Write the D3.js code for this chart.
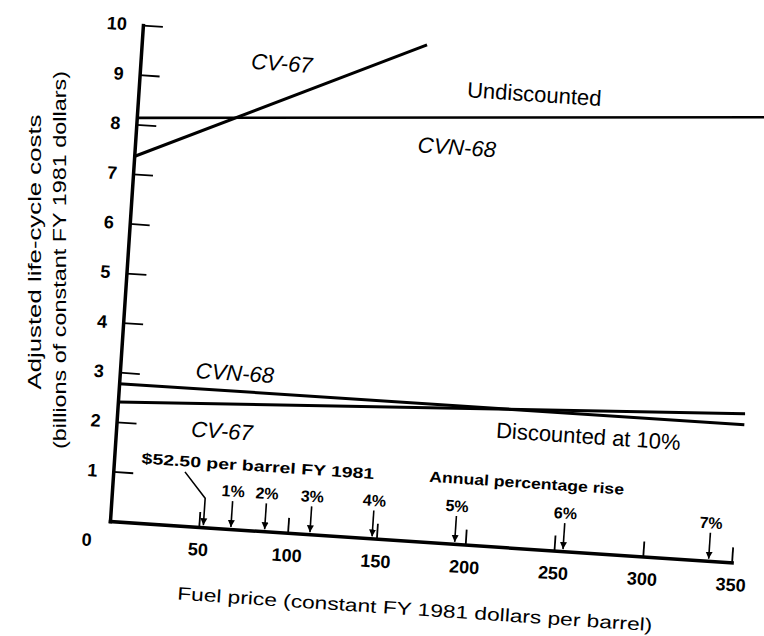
<!DOCTYPE html>
<html>
<head>
<meta charset="utf-8">
<script src="https://cdn.jsdelivr.net/npm/d3@7"></script>
<style>
  body { margin: 0; background: #fff; }
  svg text { font-family: "Liberation Sans", Arial, Helvetica, sans-serif; fill: #000; }
</style>
</head>
<body>
<svg width="764" height="636"></svg>
<script>

// tick values
var xTicks = [50, 100, 150, 200, 250, 300, 350];
var yTicks = [1, 2, 3, 4, 5, 6, 7, 8, 9, 10];

// undiscounted costs (billions, FY 1981 $) against fuel price ($ per barrel)
var cv67UndiscPrice = [0, 160];
var cv67Undisc = [7.35, 9.98];
var cvn68UndiscPrice = [0, 352];
var cvn68Undisc = [8.13, 8.98];

// discounted at 10%
var discPrice = [0, 352];
var cvn68Disc = [2.77, 2.78];
var cv67Disc = [2.40, 3.00];

// fuel price reached at each annual percentage rise
var markPrices = [52.5, 68, 87, 112.5, 147.5, 194, 255, 337];
var markLabels = ['', '1%', '2%', '3%', '4%', '5%', '6%', '7%'];

// the scanned page sits slightly tilted
var ORIGIN_X = 110;
var ORIGIN_Y = 521;
var TILT = 3.8;

var svg = d3.select('svg');

var x = d3.scaleLinear().domain([0, 350]).range([0, 623]);
var y = d3.scaleLinear().domain([0, 10]).range([0, -497]);

svg.append('defs').append('marker')
  .attr('id', 'head')
  .attr('viewBox', '0 0 10 10')
  .attr('refX', 10)
  .attr('refY', 5)
  .attr('markerWidth', 7)
  .attr('markerHeight', 8)
  .attr('markerUnits', 'userSpaceOnUse')
  .attr('orient', 'auto')
  .append('path')
  .attr('d', 'M0,0L10,5L0,10Z')
  .attr('fill', '#000');

var g = svg.append('g')
  .attr('transform', 'translate(' + ORIGIN_X + ',' + ORIGIN_Y + ') rotate(' + TILT + ')');

// axes
var xAxis = g.append('g')
  .call(d3.axisBottom(x).tickValues(xTicks).tickSizeInner(-15).tickSizeOuter(0).tickPadding(16));
var yAxis = g.append('g')
  .call(d3.axisLeft(y).tickValues(yTicks).tickSizeInner(-20).tickSizeOuter(0).tickPadding(16));

[xAxis, yAxis].forEach(function (ax) {
  ax.attr('font-family', null).attr('font-size', null);
  ax.select('.domain').attr('stroke', '#000').attr('stroke-width', 3.5).attr('stroke-linecap', 'square');
  ax.selectAll('.tick line').attr('stroke', '#000').attr('stroke-width', 1.8);
  ax.selectAll('.tick text').style('font-size', '18px').style('font-weight', 'bold');
});

g.append('text')
  .attr('x', x(0) - 22)
  .attr('y', y(0) + 20)
  .attr('dy', '0.35em')
  .attr('text-anchor', 'middle')
  .style('font-size', '18px')
  .style('font-weight', 'bold')
  .text('0');

// data lines
var line = d3.line()
  .x(function (d) { return x(d[0]); })
  .y(function (d) { return y(d[1]); });

var series = [
  { px: cv67UndiscPrice, v: cv67Undisc, w: 3 },
  { px: cvn68UndiscPrice, v: cvn68Undisc, w: 2.6 },
  { px: discPrice, v: cvn68Disc, w: 3 },
  { px: discPrice, v: cv67Disc, w: 3 }
];

g.selectAll('path.series')
  .data(series)
  .enter()
  .append('path')
  .attr('class', 'series')
  .attr('d', function (s) { return line(d3.zip(s.px, s.v)); })
  .attr('fill', 'none')
  .attr('stroke', '#000')
  .attr('stroke-width', function (s) { return s.w; });

// price arrows
g.selectAll('line.mark')
  .data(markPrices.slice(1))
  .enter()
  .append('line')
  .attr('class', 'mark')
  .attr('x1', function (d) { return x(d); })
  .attr('x2', function (d) { return x(d); })
  .attr('y1', -28)
  .attr('y2', -2)
  .attr('stroke', '#000')
  .attr('stroke-width', 1.6)
  .attr('marker-end', 'url(#head)');

g.selectAll('text.mark')
  .data(markPrices)
  .enter()
  .append('text')
  .attr('class', 'mark')
  .attr('x', function (d) { return x(d); })
  .attr('y', -38)
  .attr('dy', '0.35em')
  .attr('text-anchor', 'middle')
  .style('font-size', '16px')
  .style('font-weight', 'bold')
  .text(function (d, i) { return markLabels[i]; });

// leader from the $52.50 note
g.append('path')
  .attr('d', 'M' + x(40.2) + ',-54L' + x(markPrices[0]) + ',-29L' + x(markPrices[0]) + ',-2')
  .attr('fill', 'none')
  .attr('stroke', '#000')
  .attr('stroke-width', 1.6)
  .attr('marker-end', 'url(#head)');

// annotations
function note(str, px, val, size, opts) {
  opts = opts || {};
  var t = g.append('text')
    .attr('x', x(px))
    .attr('y', y(val))
    .attr('dy', '0.35em')
    .attr('text-anchor', 'middle')
    .style('font-size', size + 'px')
    .text(str);
  if (opts.italic) t.style('font-style', 'italic');
  if (opts.bold) t.style('font-weight', 'bold');
  if (opts.len) t.attr('textLength', opts.len).attr('lengthAdjust', 'spacingAndGlyphs');
  return t;
}

note('CV-67', 79.3, 9.42, 22, { italic: true });
note('Undiscounted', 222, 9.14, 22);
note('CVN-68', 180.5, 7.97, 22, { italic: true });
note('CVN-68', 64.5, 3.14, 22, { italic: true });
note('CV-67', 59.4, 1.96, 22, { italic: true });
note('Discounted at 10%', 265, 2.34, 22);
note('$52.50 per barrel FY 1981', 80.9, 1.30, 15, { bold: true, len: 233 });
note('Annual percentage rise', 232.2, 1.32, 15, { bold: true, len: 195 });

// axis titles
g.append('text')
  .attr('x', 310)
  .attr('y', 74)
  .attr('text-anchor', 'middle')
  .attr('textLength', 476)
  .attr('lengthAdjust', 'spacingAndGlyphs')
  .style('font-size', '18px')
  .text('Fuel price (constant FY 1981 dollars per barrel)');

svg.append('text')
  .attr('transform', 'translate(41,252) rotate(-90)')
  .attr('text-anchor', 'middle')
  .attr('textLength', 275)
  .attr('lengthAdjust', 'spacingAndGlyphs')
  .style('font-size', '18px')
  .text('Adjusted life-cycle costs');

svg.append('text')
  .attr('transform', 'translate(66,260) rotate(-90)')
  .attr('text-anchor', 'middle')
  .attr('textLength', 378)
  .attr('lengthAdjust', 'spacingAndGlyphs')
  .style('font-size', '18px')
  .text('(billions of constant FY 1981 dollars)');

</script>
</body>
</html>
